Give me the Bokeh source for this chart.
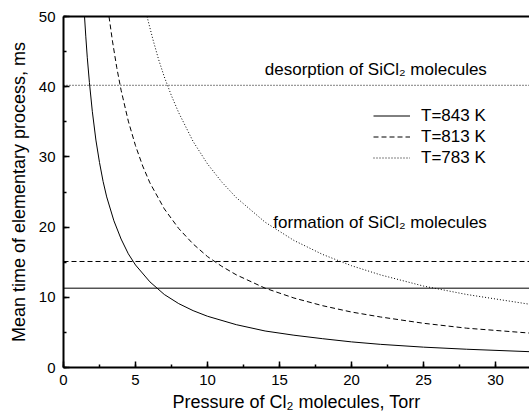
from bokeh.plotting import figure
from bokeh.models import (Range1d, SingleIntervalTicker, LinearAxis, FixedTicker,
                          Span, Label, Legend, LegendItem)
from bokeh.embed import file_html
from bokeh.resources import INLINE

# Curves
x_843 = [1.46, 1.55, 1.65, 1.8, 2.0, 2.25, 2.5, 2.75, 3.0, 3.5, 4.0, 4.5, 5.0, 6.0, 7.0, 8.0, 9.0, 10.0, 12.0, 14.0, 16.0, 18.0, 20.0, 22.0, 25.0, 28.0, 32.4]
y_843 = [50.0, 47.1, 44.2, 40.6, 36.5, 32.4, 29.2, 26.5, 24.3, 20.9, 18.3, 16.2, 14.6, 12.2, 10.4, 9.1, 8.1, 7.3, 6.1, 5.2, 4.6, 4.1, 3.65, 3.3, 2.9, 2.6, 2.25]

x_813 = [3.16, 3.4, 3.7, 4.0, 4.5, 5.0, 5.5, 6.0, 7.0, 8.0, 9.0, 10.0, 11.0, 12.0, 14.0, 16.0, 18.0, 20.0, 22.0, 25.0, 28.0, 32.4]
y_813 = [50.0, 46.5, 42.7, 39.5, 35.1, 31.6, 28.7, 26.3, 22.6, 19.8, 17.6, 15.8, 14.4, 13.2, 11.3, 9.9, 8.8, 7.9, 7.2, 6.3, 5.6, 4.9]

x_783 = [5.8, 6.2, 6.6, 7.0, 7.5, 8.0, 9.0, 10.0, 11.0, 12.0, 14.0, 16.0, 18.0, 20.0, 22.0, 25.0, 28.0, 32.4]
y_783 = [50.0, 46.8, 43.9, 41.4, 38.7, 36.3, 32.2, 29.0, 26.4, 24.2, 20.7, 18.1, 16.1, 14.5, 13.2, 11.6, 10.4, 9.0]

# Horizontal levels
level_values = [11.3, 15.1, 40.2]
level_dashes = ["solid", "5 3", "1 2"]

legend_labels = ["T=843 K", "T=813 K", "T=783 K"]
text_desorption = "desorption of SiCl\u2082 molecules"
text_formation = "formation of SiCl\u2082 molecules"
desorption_pos = (29.4, 42.4)
formation_pos = (29.4, 20.7)

FONT = "Liberation Sans"

p = figure(width=529, height=418, output_backend="svg", toolbar_location=None,
           x_range=Range1d(0, 32.36), y_range=Range1d(0, 50),
           min_border_left=63, min_border_right=0, min_border_top=16, min_border_bottom=51)
p.grid.visible = False
p.outline_line_color = None
p.background_fill_color = "white"
p.border_fill_color = "white"

p.xaxis.ticker = SingleIntervalTicker(interval=5, num_minor_ticks=2)
p.yaxis.ticker = SingleIntervalTicker(interval=10, num_minor_ticks=2)
for ax in (p.xaxis, p.yaxis):
    ax.axis_line_width = 2
    ax.axis_line_color = "black"
    ax.major_tick_in = 6
    ax.major_tick_out = 0
    ax.minor_tick_in = 3
    ax.minor_tick_out = 0
    ax.major_tick_line_width = 1.5
    ax.minor_tick_line_width = 1.5
    ax.major_tick_line_color = "black"
    ax.minor_tick_line_color = "black"
    ax.major_label_text_font = FONT
    ax.major_label_text_font_size = "15px"
    ax.major_label_text_color = "black"
    ax.axis_label_text_font = FONT
    ax.axis_label_text_font_style = "normal"
    ax.axis_label_text_color = "black"
    ax.axis_label_text_font_size = "18px"
p.xaxis.major_label_standoff = 7
p.yaxis.major_label_standoff = 8
p.xaxis.axis_label = "Pressure of Cl\u2082 molecules, Torr"
p.yaxis.axis_label = "Mean time of elementary process, ms"
p.xaxis.axis_label_standoff = 4
p.yaxis.axis_label_standoff = 7

top = LinearAxis(ticker=FixedTicker(ticks=[]), major_tick_out=0, minor_tick_out=0,
                 major_label_standoff=0, axis_line_width=2, axis_line_color="black")
p.add_layout(top, "above")

r1 = p.line(x_843, y_843, line_color="black", line_width=1)
r2 = p.line(x_813, y_813, line_color="black", line_width=1, line_dash="5 3")
r3 = p.line(x_783, y_783, line_color="black", line_width=1, line_dash="1 2")

for v, d in zip(level_values, level_dashes):
    p.add_layout(Span(location=v, dimension="width", line_color="black",
                      line_width=1, line_dash=d))

for txt, (lx, ly) in ((text_desorption, desorption_pos), (text_formation, formation_pos)):
    p.add_layout(Label(x=lx, y=ly, text=txt, text_align="right", text_baseline="middle",
                       text_font=FONT, text_font_size="17px", text_color="black"))

legend = Legend(items=[LegendItem(label=legend_labels[i], renderers=[r])
                       for i, r in enumerate([r1, r2, r3])],
                location=(310, 199), padding=0, margin=0, spacing=0,
                glyph_width=37, glyph_height=21, label_standoff=11,
                label_text_font=FONT, label_text_font_size="17px",
                label_text_color="black", border_line_color=None,
                background_fill_alpha=0)
p.add_layout(legend, "center")

open("out.html", "w").write(file_html(p, INLINE))
